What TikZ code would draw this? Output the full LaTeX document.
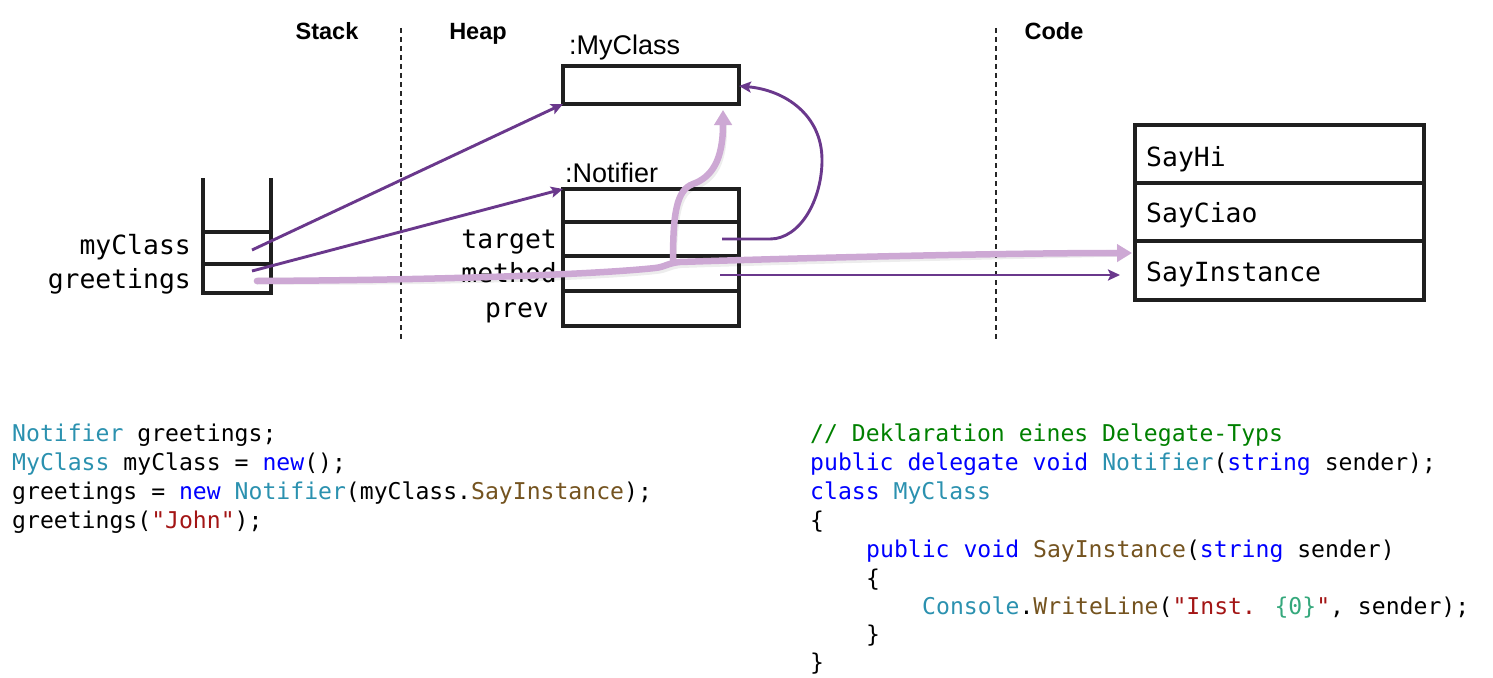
\documentclass[tikz,border=0pt]{standalone}
\usepackage{fontspec}
\setmainfont{Liberation Sans}
\newfontfamily\cmono{DejaVu Sans Mono}
\usetikzlibrary{arrows.meta}
\definecolor{dpurple}{RGB}{106,56,140}
\definecolor{lpink}{RGB}{205,168,212}
\definecolor{ctype}{RGB}{43,145,175}
\definecolor{ckw}{RGB}{0,0,255}
\definecolor{cmeth}{RGB}{116,83,31}
\definecolor{cstr}{RGB}{163,21,21}
\definecolor{ccom}{RGB}{0,128,0}
\definecolor{cfmt}{RGB}{53,168,124}
\newcommand{\ty}[1]{\textcolor{ctype}{#1}}
\newcommand{\kw}[1]{\textcolor{ckw}{#1}}
\newcommand{\me}[1]{\textcolor{cmeth}{#1}}
\newcommand{\st}[1]{\textcolor{cstr}{#1}}
\begin{document}
\begin{tikzpicture}[x=1pt,y=-1pt,
  cell/.style={draw=black!88, line width=3.2pt, inner sep=0, outer sep=0, anchor=north west},
  blank/.style={inner sep=0, outer sep=0, anchor=north west},
  lbl/.style={font=\cmono\fontsize{26.4}{30}\selectfont, inner sep=0, anchor=base east},
  codelbl/.style={font=\cmono\fontsize{26.4}{30}\selectfont, inner sep=0, anchor=base west},
  codeln/.style={font=\cmono\fontsize{23.1}{28}\selectfont, inner sep=0, anchor=base west},
  head/.style={font=\bfseries\fontsize{23.5}{28}\selectfont, inner sep=0, anchor=base},
  objlbl/.style={font=\fontsize{27}{30}\selectfont, inner sep=0, anchor=base west},
  sep/.style={dashed, dash pattern=on 5pt off 4pt, line width=1.3pt, black!85},
  ptr/.style={draw=dpurple, line width=2.9pt, -{Stealth[length=12pt,width=11pt,inset=2.5pt]}},
  flow/.style={draw=lpink, line width=6.5pt, line cap=round, -{Triangle[length=15pt,width=17pt]}},
  flowshadow/.style={draw=black, opacity=0.07, line width=7pt, line cap=round, -{Triangle[length=15pt,width=17pt]}},
]
\useasboundingbox (0,0) rectangle (1493,677);

% separators
\draw[sep] (401,28) coordinate (d1) -- (401,340) coordinate (d1b);
\draw[sep] (996,28) coordinate (d2) -- (996,340) coordinate (d2b);

% headings
\node[head] (hstack) at (327,40) {Stack};
\node[head] (hheap) at (478,40) {Heap};
\node[head] (hcode) at (1054,40) {Code};

% stack
\draw[black!88, line width=3.2pt] (203,178) -- (203,293) -- (271,293) -- (271,178);
\draw[black!88, line width=3.2pt] (203,232) -- (271,232);
\draw[black!88, line width=3.2pt] (203,264) -- (271,264);
\node[blank, minimum width=68pt, minimum height=32pt] (s1) at (203,232) {};
\node[blank, minimum width=68pt, minimum height=29pt] (s2) at (203,264) {};
\node[lbl] (lmy) at (191,254) {myClass};
\node[lbl] (lgr) at (191,288) {greetings};

% MyClass object
\node[objlbl] (tmc) at (569,55) {:MyClass};
\node[cell, minimum width=176pt, minimum height=38pt] (mc) at (563,66) {};

% Notifier object
\node[objlbl] (tno) at (565,182) {:Notifier};
\node[cell, minimum width=176pt, minimum height=33pt] (n1) at (563,189) {};
\node[cell, minimum width=176pt, minimum height=34pt] (n2) at (563,222) {};
\node[cell, minimum width=176pt, minimum height=35pt] (n3) at (563,256) {};
\node[cell, minimum width=176pt, minimum height=35pt] (n4) at (563,291) {};
\node[lbl] (ltarget) at (557,248) {target};
\node[lbl] (lmethod) at (557,282) {method};
\node[lbl] (lprev) at (549,317) {prev};

% Code boxes
\node[cell, minimum width=289pt, minimum height=58pt] (c1) at (1135,125) {};
\node[cell, minimum width=289pt, minimum height=58pt] (c2) at (1135,183) {};
\node[cell, minimum width=289pt, minimum height=59pt] (c3) at (1135,241) {};
\node[codelbl] (tc1) at (1146,166) {SayHi};
\node[codelbl] (tc2) at (1146,222) {SayCiao};
\node[codelbl] (tc3) at (1146,281) {SayInstance};

% pointer coordinates
\coordinate (a1) at (252,250);
\coordinate (a2) at (252,271);
\coordinate (tg) at (722,239);
\coordinate (mt) at (720,275);
\coordinate (mtend) at (1120,275);
\coordinate (p0) at (257,281);
\coordinate (pb) at (673,262);
\coordinate (pend) at (1132,253);
\coordinate (bend) at (723,110);

% pink flow (shadow first)
\begin{scope}[shift={(1.5,2.5)}]
\draw[flowshadow] (p0) .. controls (450,280) and (600,274) .. (655,268) .. controls (665,267) and (668,263) .. (680,262) .. controls (800,258) and (1000,253) .. (pend);
\draw[flowshadow] (pb) .. controls (673,215) and (676,190) .. (693,184) .. controls (712,177) and (723,160) .. (bend);
\end{scope}

% dark pointers
\draw[ptr] (a1) -- (mc.south west);
\draw[ptr] (a2) -- (n1.north west);
\draw[ptr] (tg) -- (770,239) .. controls (800,239) and (822,200) .. (822,160) .. controls (822,115) and (785,90) .. (mc.east |- 0,86);
\draw[ptr] (mt) -- (mtend);

% pink flow
\draw[flow] (p0) .. controls (450,280) and (600,274) .. (655,268) .. controls (665,267) and (668,263) .. (680,262) .. controls (800,258) and (1000,253) .. (pend);
\draw[flow] (pb) .. controls (673,215) and (676,190) .. (693,184) .. controls (712,177) and (723,160) .. (bend);

% code left
\node[codeln] (L1) at (12,441) {\ty{Notifier} greetings;};
\node[codeln] (L2) at (12,470) {\ty{MyClass} myClass = \kw{new}();};
\node[codeln] (L3) at (12,499) {greetings = \kw{new} \ty{Notifier}(myClass.\me{SayInstance});};
\node[codeln] (L4) at (12,528) {greetings(\st{"John"});};

% code right
\node[codeln] (R1) at (810,441) {\textcolor{ccom}{// Deklaration eines Delegate-Typs}};
\node[codeln] (R2) at (810,470) {\kw{public delegate void} \ty{Notifier}(\kw{string} sender);};
\node[codeln] (R3) at (810,499) {\kw{class} \ty{MyClass}};
\node[codeln] (R4) at (810,528) {\{};
\node[codeln] (R5) at (866,557) {\kw{public void} \me{SayInstance}(\kw{string} sender)};
\node[codeln] (R6) at (866,586) {\{};
\node[codeln] (R7) at (922,614) {\ty{Console}.\me{WriteLine}(\st{"Inst. }\textcolor{cfmt}{\{0\}}\st{"}, sender);};
\node[codeln] (R8) at (866,642) {\}};
\node[codeln] (R9) at (810,670) {\}};
\end{tikzpicture}
\end{document}
